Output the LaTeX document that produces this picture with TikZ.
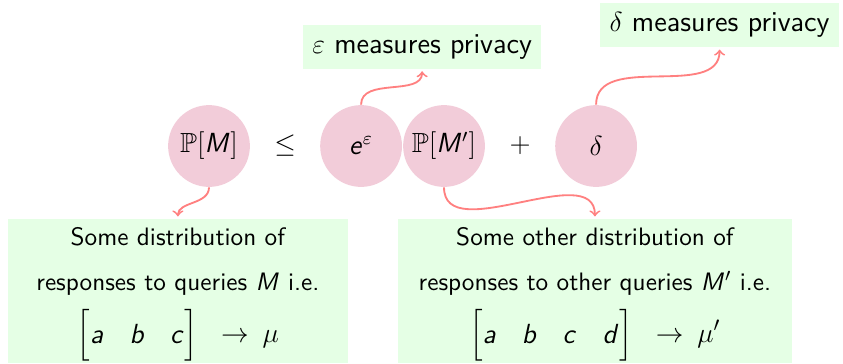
\documentclass[tikz,border=0pt]{standalone}
\usepackage{amsmath,amssymb}
\usetikzlibrary{positioning}
\DeclareMathAlphabet{\mathsfit}{OT1}{cmss}{m}{sl}
\newcommand{\qv}[1]{\mathsfit{#1}}
\newcommand{\bigsize}{\fontsize{12.5}{15}\selectfont}

\begin{document}
\begin{tikzpicture}[
  x=0.434pt, y=0.434pt,
  font=\sffamily\fontsize{10.95}{13.6}\selectfont,
  node distance=33pt, on grid,
  qty/.style={circle, fill=purple!20, minimum size=35.5pt, inner sep=1pt, font=\sffamily\fontsize{12}{14.5}\selectfont},
  op/.style={font=\fontsize{12}{14.5}\selectfont},
  note/.style={fill=green!10, inner xsep=4pt, inner ysep=4pt, font=\sffamily\bigsize},
  dist/.style={fill=green!10, align=center, minimum height=62.5pt, inner sep=0pt},
  link/.style={->, thick, red!50, shorten >=1pt},
]
\useasboundingbox (0,0) rectangle (843,363);
% the inequality
\node[qty] (PM) at (209,217) {$\mathbb{P}[\qv{M}]$};
\node[op, right=of PM] (leq) {$\leq$};
\node[qty, right=of leq] (eeps) {$\qv{e}^{\varepsilon}$};
\node[qty, right=36pt of eeps] (PMp) {$\mathbb{P}[\qv{M}']$};
\node[op, right=of PMp] (plus) {$+$};
\node[qty, right=of plus] (delta) {$\delta$};
% what the parameters mean
\node[note, above right=43pt and 26.5pt of eeps] (epsnote) {$\varepsilon$ measures privacy};
\node[note, above right=52.5pt and 53.6pt of delta] (deltanote) {$\delta$ measures privacy};
% the two distributions
\node[dist, minimum width=147.6pt, below left=63pt and 13.5pt of PM] (distM)
  {\rule{0pt}{10.4pt}Some distribution of\\[6pt]
   responses to queries $\qv{M}$ i.e.\\[5pt]
   {\bigsize\setlength\arraycolsep{5.6pt}\renewcommand\arraystretch{1.2}%
    $\begin{bmatrix}\qv{a} & \qv{b} & \qv{c}\end{bmatrix}\hspace{8pt}{\to}\hspace{6pt}\mu$}};
\node[dist, minimum width=171pt, below right=63pt and 65.5pt of PMp] (distMp)
  {\rule{0pt}{10.4pt}Some other distribution of\\[6pt]
   responses to other queries $\qv{M}'$ i.e.\\[5pt]
   {\bigsize\setlength\arraycolsep{5.6pt}\renewcommand\arraystretch{1.2}%
    $\begin{bmatrix}\qv{a} & \qv{b} & \qv{c} & \qv{d}\end{bmatrix}\hspace{8pt}{\to}\hspace{6pt}\mu'$}};
\draw[link] (eeps.north) to[out=90, in=-90] (epsnote.south);
\draw[link] (delta.north) to[out=90, in=-90] (deltanote.south);
\draw[link] (PM.south) to[out=-90, in=90] (distM.north);
\draw[link] (PMp.south) to[out=-90, in=90] (distMp.north);
\end{tikzpicture}
\end{document}
